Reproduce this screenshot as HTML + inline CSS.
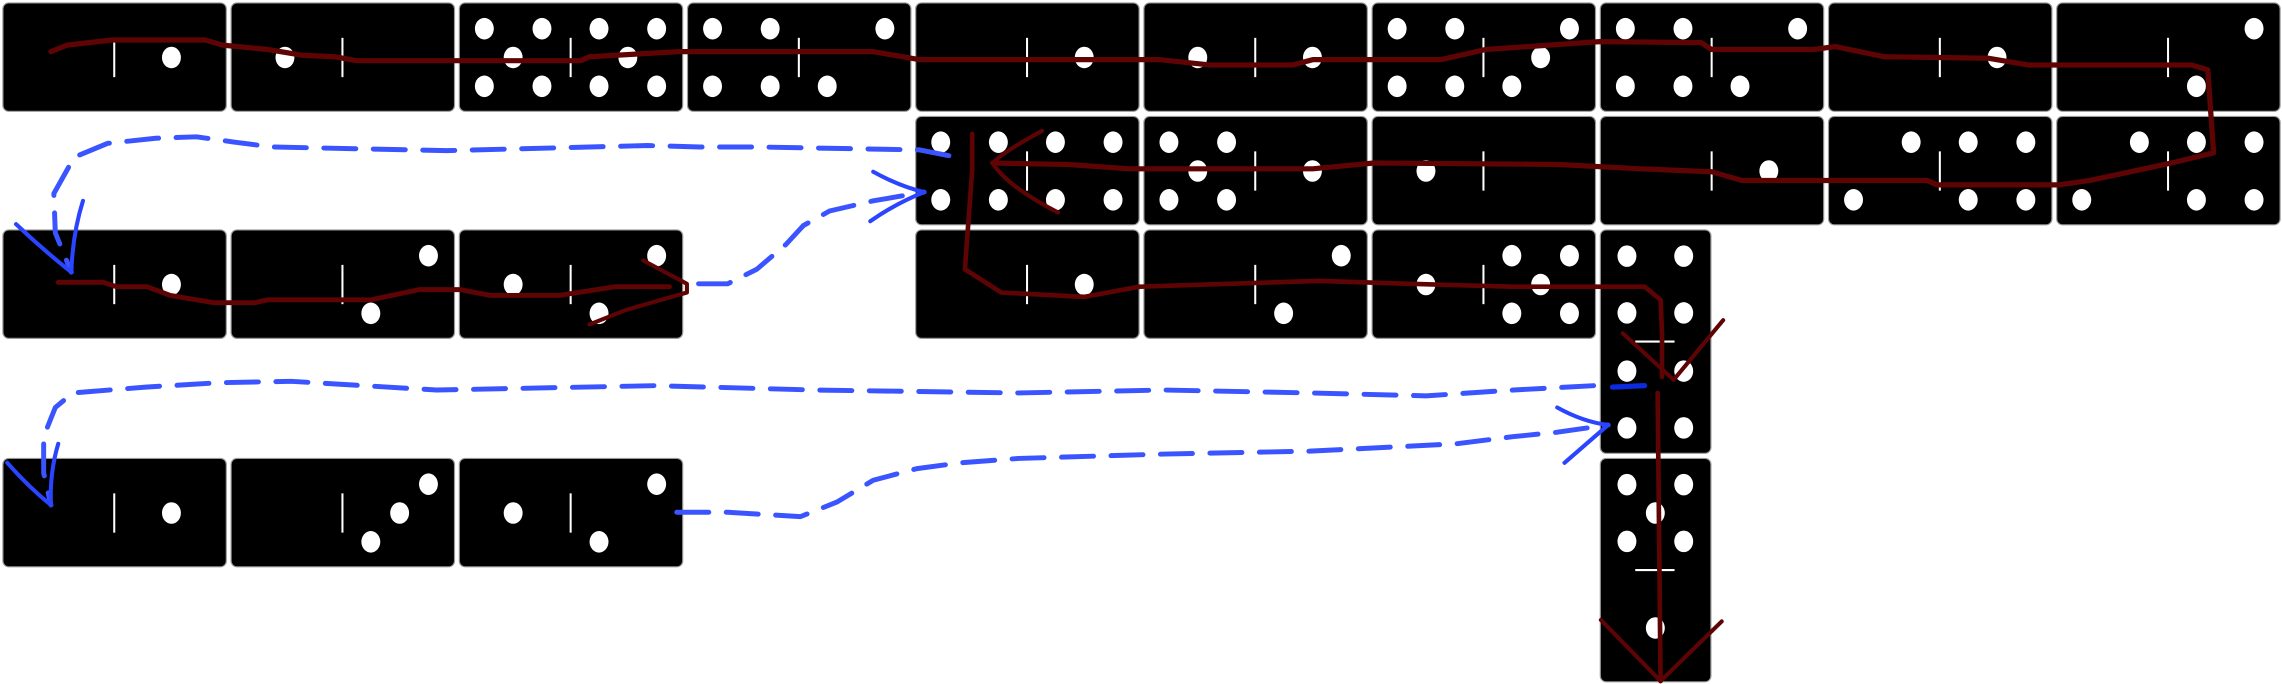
<!DOCTYPE html>
<html><head><meta charset="utf-8"><style>
html,body{margin:0;padding:0;background:#fff;}
svg{display:block;}
</style></head><body>
<svg id="board" width="2282" height="684" viewBox="0 0 1568 470" preserveAspectRatio="none" xmlns="http://www.w3.org/2000/svg">
<g id="dominoes"></g>
<g id="strokes" fill="none" stroke-linecap="round" stroke-linejoin="round">
  <path stroke="#5e0404" stroke-width="3.6" d="M35,35.5 L46,31 L77,27.5 L141,27.5 L153,31 L184,34 L208,38 L230,39 L245,41.7 L399,41.7 L405,39 L467,35.5 L600,35.5 L632,41 L797,41 L832,44.7 L888,44.7 L902,41 L990,41 L1021,34 L1099,28.6 L1169,29.3 L1176,34 L1246,34 L1261,32 L1295,39 L1366,40 L1394,44.7 L1506,44.7 L1517,48 L1521,105 L1492,112 L1436,124 L1415,127 L1331,127 L1324,124 L1197,124 L1176,118 L1127,116 L1071,113 L944,112 L902,116 L776,116 L734,113 L682,112"/>
  <path stroke="#5e0404" stroke-width="2.8" d="M716,90 Q690,104 682,112 Q692,128 727,146"/>
  <path stroke="#5e0404" stroke-width="3.2" d="M668,92 L668,117 L663,185 L688,201 L745,204 L783,197 L906,193 L969,195 L1039,197 L1130,197 L1141,206 L1142,229 L1142,259"/>
  <path stroke="#5e0404" stroke-width="2.8" d="M1115,229 L1150,261 L1184,220"/>
  <path stroke="#5e0404" stroke-width="3.2" d="M1139,270 L1141,468"/>
  <path stroke="#5e0404" stroke-width="2.8" d="M1100,426 L1141,468 L1183,427"/>
  <path stroke="#5e0404" stroke-width="3.4" d="M40,194 L71,194 L80,197 L101,197 L117,203 L147,208 L175,208 L184,206 L255,206 L288,199 L316,199 L337,203 L384,203 L423,197 L460,197"/>
  <path stroke="#5e0404" stroke-width="2.8" d="M442,179 L472,195 L472,201 L430,213 L405,223"/>
  <path stroke="#3a55ff" stroke-width="3.4" stroke-dasharray="22,12" d="M652,107 L632,103 L520,101 L481,101 L445,100 L307,103.5 L187,101 L160,97.5 L135,94 L107,95 L74,98.5 L51,108 L37,133 L38,160 L49,187"/>
  <path stroke="#2b44ff" stroke-width="2.8" d="M11,154 Q30,172 49,187 M57,138 Q50,160 49,187"/>
  <path stroke="#3a55ff" stroke-width="3.4" stroke-dasharray="22,12" d="M480,195 L500,195 L520,185 L540,168 L552,155 L570,145 L600,138 L635,132"/>
  <path stroke="#2b44ff" stroke-width="2.8" d="M600,118 Q618,128 635,132 Q615,140 598,152"/>
  <path stroke="#3a55ff" stroke-width="3.4" stroke-dasharray="22,12" d="M1095,265 L1040,268 L980,272 L900,270 L800,268 L700,270 L560,268 L450,265 L300,268 L200,262 L150,263 L100,266 L50,270 L38,280 L30,300 L30,325 L35,347"/>
  <path stroke="#0a2be0" stroke-width="3.6" d="M1108,266 L1130,265"/>
  <path stroke="#2b44ff" stroke-width="2.8" d="M5,318 Q20,335 35,347 M40,305 Q34,325 35,347"/>
  <path stroke="#3a55ff" stroke-width="3.4" stroke-dasharray="22,12" d="M465,352 L500,352 L550,355 L575,345 L600,330 L630,322 L660,318 L700,315 L800,312 L900,310 L1000,305 L1040,300 L1070,297 L1105,292"/>
  <path stroke="#2b44ff" stroke-width="2.8" d="M1070,280 Q1088,290 1105,292 Q1090,305 1075,318"/>
</g>
</svg>
<script>
// domino data: column, row (y top), left/top value, right/bottom value
const hCols   = [0,1,2,3,4,5,6,7,8,9, 4,5,6,7,8,9, 0,1,2,4,5,6, 0,1,2];
const hRows   = [0,0,0,0,0,0,0,0,0,0, 1,1,1,1,1,1, 2,2,2,2,2,2, 3,3,3];
const hLeft   = [0,1,5,4,0,1,4,4,0,0, 4,5,1,0,2,2, 0,0,1,0,0,1, 0,0,1];
const hRight  = [1,0,5,2,1,1,3,2,1,2, 4,1,0,1,4,4, 1,2,2,1,2,5, 1,3,2];
const vCols   = [7,7];
const vRows   = [2,3];
const vTop    = [4,5];
const vBottom = [4,1];

const NS = 'http://www.w3.org/2000/svg';
const layer = document.getElementById('dominoes');
const colX = c => 2 + 156.8 * c;
const rowY = r => [2, 80, 158, 315][r];
const patterns = {
  0: [], 1: [[0,0]], 2: [[-1,1],[1,-1]], 3: [[-1,1],[0,0],[1,-1]],
  4: [[-1,-1],[1,-1],[-1,1],[1,1]], 5: [[-1,-1],[1,-1],[0,0],[-1,1],[1,1]],
  6: [[-1,-1],[1,-1],[-1,0],[1,0],[-1,1],[1,1]]
};
function mk(tag, attrs) { const e = document.createElementNS(NS, tag); for (const k in attrs) e.setAttribute(k, attrs[k]); return e; }
function pips(g, v, cx, cy, d) {
  patterns[v].forEach(p => {
    const e = mk('ellipse', {cx: cx + p[0]*d, cy: cy + p[1]*d, rx: 6.5, ry: 7.4, fill: '#fff'});
    
    
    g.appendChild(e);
  });
}
for (let i = 0; i < hCols.length; i++) {
  const x = colX(hCols[i]), y = rowY(hRows[i]);
  const g = mk('g', {});
  
  
  g.appendChild(mk('rect', {x: x, y: y, width: 153.5, height: 74.5, rx: 4, fill: '#000', stroke: '#9a9a9a', 'stroke-width': 0.8}));
  const ln = mk('line', {x1: x+76.5, y1: y+24, x2: x+76.5, y2: y+51, stroke: '#fff', 'stroke-width': 1.4});
  
  
  g.appendChild(ln);
  pips(g, hLeft[i], x+37, y+37.5, 19.8);
  pips(g, hRight[i], x+115.8, y+37.5, 19.8);
  layer.appendChild(g);
}
for (let i = 0; i < vCols.length; i++) {
  const x = colX(vCols[i]), y = rowY(vRows[i]);
  const g = mk('g', {});
  
  
  g.appendChild(mk('rect', {x: x, y: y, width: 76, height: 153.5, rx: 4, fill: '#000', stroke: '#9a9a9a', 'stroke-width': 0.8}));
  const ln = mk('line', {x1: x+24, y1: y+76.7, x2: x+51, y2: y+76.7, stroke: '#fff', 'stroke-width': 1.4});
  
  
  g.appendChild(ln);
  pips(g, vTop[i], x+37.8, y+37.5, 19.5);
  pips(g, vBottom[i], x+37.8, y+116.5, 19.5);
  layer.appendChild(g);
}
</script>
</body></html>
